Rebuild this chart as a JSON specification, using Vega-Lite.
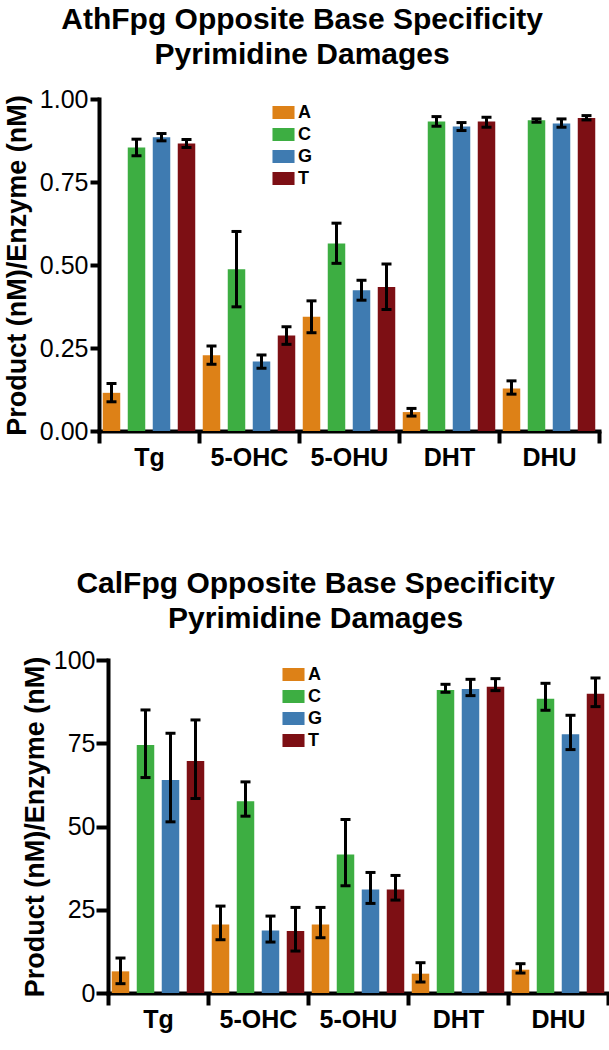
{
  "$schema": "https://vega.github.io/schema/vega-lite/v6.json",
  "padding": {"left": 3, "top": 5, "right": 2, "bottom": 5},
  "config": {
    "font": "Liberation Sans",
    "view": {"stroke": null},
    "axis": {"domainColor": "black", "tickColor": "black", "labelColor": "black", "titleColor": "black", "grid": false, "domainWidth": 4, "tickWidth": 4, "domainCap": "square"},
    "title": {"fontSize": 30, "fontWeight": "bold", "color": "black", "lineHeight": 35, "anchor": "middle", "frame": "bounds", "offset": 17}
  },
  "resolve": {"scale": {"color": "independent"}, "legend": {"color": "independent"}},
  "datasets": {
    "ath": [
      {"damage": "Tg", "base": "A", "value": 0.115, "lo": 0.088, "hi": 0.143},
      {"damage": "Tg", "base": "C", "value": 0.854, "lo": 0.829, "hi": 0.879},
      {"damage": "Tg", "base": "G", "value": 0.885, "lo": 0.874, "hi": 0.896},
      {"damage": "Tg", "base": "T", "value": 0.866, "lo": 0.854, "hi": 0.878},
      {"damage": "5-OHC", "base": "A", "value": 0.228, "lo": 0.201, "hi": 0.256},
      {"damage": "5-OHC", "base": "C", "value": 0.487, "lo": 0.374, "hi": 0.601},
      {"damage": "5-OHC", "base": "G", "value": 0.209, "lo": 0.189, "hi": 0.229},
      {"damage": "5-OHC", "base": "T", "value": 0.288, "lo": 0.261, "hi": 0.314},
      {"damage": "5-OHU", "base": "A", "value": 0.344, "lo": 0.296, "hi": 0.392},
      {"damage": "5-OHU", "base": "C", "value": 0.565, "lo": 0.505, "hi": 0.626},
      {"damage": "5-OHU", "base": "G", "value": 0.424, "lo": 0.394, "hi": 0.454},
      {"damage": "5-OHU", "base": "T", "value": 0.434, "lo": 0.366, "hi": 0.503},
      {"damage": "DHT", "base": "A", "value": 0.057, "lo": 0.045, "hi": 0.068},
      {"damage": "DHT", "base": "C", "value": 0.932, "lo": 0.918, "hi": 0.947},
      {"damage": "DHT", "base": "G", "value": 0.917, "lo": 0.905, "hi": 0.929},
      {"damage": "DHT", "base": "T", "value": 0.932, "lo": 0.915, "hi": 0.945},
      {"damage": "DHU", "base": "A", "value": 0.128, "lo": 0.111, "hi": 0.151},
      {"damage": "DHU", "base": "C", "value": 0.936, "lo": 0.930, "hi": 0.940},
      {"damage": "DHU", "base": "G", "value": 0.926, "lo": 0.915, "hi": 0.940},
      {"damage": "DHU", "base": "T", "value": 0.943, "lo": 0.937, "hi": 0.950}
    ],
    "cal": [
      {"damage": "Tg", "base": "A", "value": 6.5, "lo": 2.8, "hi": 10.5},
      {"damage": "Tg", "base": "C", "value": 74.5, "lo": 64.7, "hi": 85.0},
      {"damage": "Tg", "base": "G", "value": 64.0, "lo": 51.4, "hi": 78.0},
      {"damage": "Tg", "base": "T", "value": 69.7, "lo": 58.4, "hi": 82.0},
      {"damage": "5-OHC", "base": "A", "value": 20.6, "lo": 16.0, "hi": 26.1},
      {"damage": "5-OHC", "base": "C", "value": 57.6, "lo": 53.1, "hi": 63.4},
      {"damage": "5-OHC", "base": "G", "value": 18.8, "lo": 15.3, "hi": 23.1},
      {"damage": "5-OHC", "base": "T", "value": 18.6, "lo": 12.6, "hi": 25.7},
      {"damage": "5-OHU", "base": "A", "value": 20.6, "lo": 16.6, "hi": 25.7},
      {"damage": "5-OHU", "base": "C", "value": 41.6, "lo": 32.2, "hi": 52.1},
      {"damage": "5-OHU", "base": "G", "value": 31.1, "lo": 26.9, "hi": 36.2},
      {"damage": "5-OHU", "base": "T", "value": 31.1, "lo": 27.9, "hi": 35.3},
      {"damage": "DHT", "base": "A", "value": 5.8, "lo": 3.3, "hi": 9.1},
      {"damage": "DHT", "base": "C", "value": 91.0, "lo": 90.3, "hi": 92.7},
      {"damage": "DHT", "base": "G", "value": 91.3, "lo": 89.3, "hi": 94.2},
      {"damage": "DHT", "base": "T", "value": 92.0, "lo": 90.8, "hi": 94.4},
      {"damage": "DHU", "base": "A", "value": 7.0, "lo": 6.0, "hi": 8.8},
      {"damage": "DHU", "base": "C", "value": 88.4, "lo": 84.9, "hi": 93.0},
      {"damage": "DHU", "base": "G", "value": 77.7, "lo": 73.1, "hi": 83.4},
      {"damage": "DHU", "base": "T", "value": 89.9, "lo": 86.0, "hi": 94.6}
    ]
  },
  "spacing": 99,
  "vconcat": [
    {
      "title": {"text": ["AthFpg Opposite Base Specificity", "Pyrimidine Damages"]},
      "width": 500,
      "height": 332,
      "data": {"name": "ath"},
      "encoding": {
        "x": {"field": "damage", "type": "nominal", "sort": ["Tg", "5-OHC", "5-OHU", "DHT", "DHU"], "scale": {"paddingInner": 0, "paddingOuter": 0},
          "axis": {"title": null, "labelAngle": 0, "labelFontSize": 25, "labelFontWeight": "bold", "tickBand": "extent", "tickSize": 12, "labelPadding": 2}},
        "xOffset": {"field": "base", "type": "nominal", "sort": ["A", "C", "G", "T"], "scale": {"paddingInner": 0.3, "paddingOuter": 0.15}}
      },
      "layer": [
        {
          "mark": {"type": "bar"},
          "encoding": {
            "y": {"field": "value", "type": "quantitative", "title": "Product (nM)/Enzyme (nM)", "scale": {"domain": [0, 1], "nice": false},
              "axis": {"values": [0, 0.25, 0.5, 0.75, 1], "format": ".2f", "labelFontSize": 25, "titleFontSize": 27, "titleFontWeight": "bold", "tickSize": 9, "labelPadding": 2, "titlePadding": 8}},
            "color": {"field": "base", "type": "nominal", "scale": {"domain": ["A", "C", "G", "T"], "range": ["#dd8117", "#3dae42", "#3f7bb1", "#7d0f14"]},
              "legend": {"orient": "none", "legendX": 174, "legendY": 3, "title": null, "symbolType": "M-1.05,-0.62H1.05V0.62H-1.05Z", "symbolSize": 441, "symbolStrokeWidth": 0, "symbolOpacity": 1, "labelFontSize": 18, "labelFontWeight": "bold", "labelColor": "black", "labelOffset": 4, "rowPadding": 2}}
          }
        },
        {
          "mark": {"type": "rule", "strokeWidth": 3, "color": "black"},
          "encoding": {"y": {"field": "lo", "type": "quantitative", "title": "Product (nM)/Enzyme (nM)"}, "y2": {"field": "hi"}}
        },
        {
          "mark": {"type": "tick", "orient": "horizontal", "size": 10, "thickness": 3, "color": "black", "opacity": 1},
          "encoding": {"y": {"field": "hi", "type": "quantitative", "title": "Product (nM)/Enzyme (nM)"}}
        },
        {
          "mark": {"type": "tick", "orient": "horizontal", "size": 10, "thickness": 3, "color": "black", "opacity": 1},
          "encoding": {"y": {"field": "lo", "type": "quantitative", "title": "Product (nM)/Enzyme (nM)"}}
        }
      ]
    },
    {
      "title": {"text": ["CalFpg Opposite Base Specificity", "Pyrimidine Damages"], "offset": 14},
      "width": 509,
      "height": 333,
      "data": {"name": "cal"},
      "encoding": {
        "x": {"field": "damage", "type": "nominal", "sort": ["Tg", "5-OHC", "5-OHU", "DHT", "DHU"], "scale": {"paddingInner": 0, "paddingOuter": 0, "range": [9, 509]},
          "axis": {"title": null, "labelAngle": 0, "labelFontSize": 25, "labelFontWeight": "bold", "tickBand": "extent", "tickSize": 12, "labelPadding": 2}},
        "xOffset": {"field": "base", "type": "nominal", "sort": ["A", "C", "G", "T"], "scale": {"paddingInner": 0.3, "paddingOuter": 0.15}}
      },
      "layer": [
        {
          "mark": {"type": "bar"},
          "encoding": {
            "y": {"field": "value", "type": "quantitative", "title": "Product (nM)/Enzyme (nM)", "scale": {"domain": [0, 100], "nice": false},
              "axis": {"values": [0, 25, 50, 75, 100], "offset": -9, "labelFontSize": 25, "titleFontSize": 27, "titleFontWeight": "bold", "tickSize": 12, "labelPadding": 1, "titlePadding": 4}},
            "color": {"field": "base", "type": "nominal", "scale": {"domain": ["A", "C", "G", "T"], "range": ["#dd8117", "#3dae42", "#3f7bb1", "#7d0f14"]},
              "legend": {"orient": "none", "legendX": 184, "legendY": 4, "title": null, "symbolType": "M-1.05,-0.62H1.05V0.62H-1.05Z", "symbolSize": 441, "symbolStrokeWidth": 0, "symbolOpacity": 1, "labelFontSize": 18, "labelFontWeight": "bold", "labelColor": "black", "labelOffset": 4, "rowPadding": 2}}
          }
        },
        {
          "mark": {"type": "rule", "strokeWidth": 3, "color": "black"},
          "encoding": {"y": {"field": "lo", "type": "quantitative", "title": "Product (nM)/Enzyme (nM)"}, "y2": {"field": "hi"}}
        },
        {
          "mark": {"type": "tick", "orient": "horizontal", "size": 10, "thickness": 3, "color": "black", "opacity": 1},
          "encoding": {"y": {"field": "hi", "type": "quantitative", "title": "Product (nM)/Enzyme (nM)"}}
        },
        {
          "mark": {"type": "tick", "orient": "horizontal", "size": 10, "thickness": 3, "color": "black", "opacity": 1},
          "encoding": {"y": {"field": "lo", "type": "quantitative", "title": "Product (nM)/Enzyme (nM)"}}
        }
      ]
    }
  ]
}
